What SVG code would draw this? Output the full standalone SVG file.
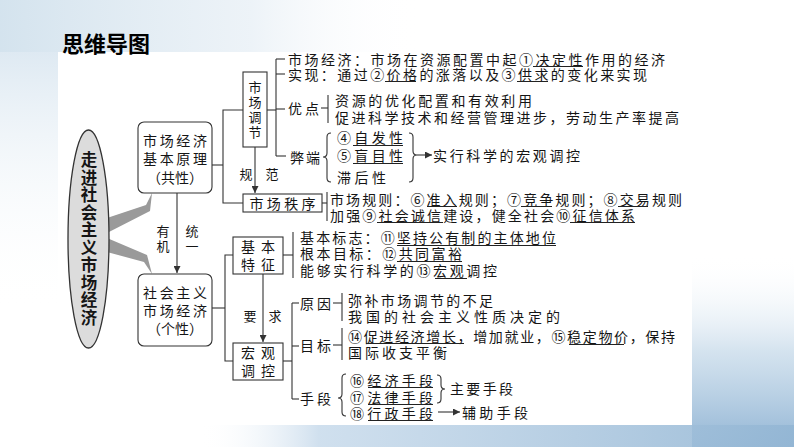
<svg xmlns="http://www.w3.org/2000/svg" width="794" height="447" viewBox="0 0 794 447">
<defs>
<style>
.t{font-family:"Noto Sans CJK SC","Noto Sans CJK JP",sans-serif;font-size:14px;fill:#151515;dominant-baseline:central}
.m{text-anchor:middle}
.s{font-size:13px}
.vt{font-family:"Noto Sans CJK SC","Noto Sans CJK JP",sans-serif;fill:#151515;writing-mode:vertical-rl;text-anchor:middle}
.ln{fill:none;stroke:#333;stroke-width:1.1}
.u{stroke:#222;stroke-width:1}
.box{fill:#fff;stroke:#333;stroke-width:1.1}
</style>
<marker id="ah" viewBox="0 0 10 10" refX="10" refY="5" markerWidth="7" markerHeight="7" orient="auto" markerUnits="userSpaceOnUse">
<path d="M0,0 L10,5 L0,10 Z" fill="#333"/>
</marker>
<linearGradient id="gTop" x1="0" y1="0" x2="1" y2="0">
<stop offset="0" stop-color="#cfe0ec" stop-opacity="0.9"/>
<stop offset="0.6" stop-color="#e1ebf3" stop-opacity="0.6"/>
<stop offset="1" stop-color="#ffffff" stop-opacity="0"/>
</linearGradient>
<linearGradient id="gLeft" x1="0" y1="0" x2="0" y2="1">
<stop offset="0" stop-color="#d6e4ef" stop-opacity="0.8"/>
<stop offset="1" stop-color="#ffffff" stop-opacity="0"/>
</linearGradient>
<linearGradient id="gRight" x1="0" y1="0" x2="0" y2="1">
<stop offset="0" stop-color="#ffffff" stop-opacity="0"/>
<stop offset="0.5" stop-color="#c2d7e8" stop-opacity="0.7"/>
<stop offset="1" stop-color="#86add0" stop-opacity="0.9"/>
</linearGradient>
<linearGradient id="gBot" x1="0" y1="0" x2="1" y2="0">
<stop offset="0" stop-color="#ffffff" stop-opacity="0"/>
<stop offset="0.2" stop-color="#c4d8ea" stop-opacity="0.8"/>
<stop offset="1" stop-color="#93b6d4" stop-opacity="0.9"/>
</linearGradient>
</defs>

<!-- background -->
<rect x="0" y="0" width="794" height="447" fill="#ffffff"/>
<rect x="0" y="0" width="420" height="52" fill="url(#gTop)"/>
<rect x="0" y="52" width="58" height="260" fill="url(#gLeft)"/>
<rect x="692" y="255" width="102" height="192" fill="url(#gRight)"/>
<rect x="200" y="425" width="594" height="22" fill="url(#gBot)"/>

<text x="62" y="52" style="font-family:'Noto Sans CJK SC',sans-serif;font-size:22px;font-weight:bold;fill:#000">思维导图</text>

<!-- connectors -->
<g id="connectors">
<polygon points="107,218 146,205 152,193 150,211 107,233" fill="#9a9a9a"/>
<polygon points="107,238 147,255 152,274 144,262 107,252" fill="#9a9a9a"/>
<line x1="177" y1="193" x2="177" y2="273" class="ln" marker-end="url(#ah)"/>
<polyline points="212,165 223,165" class="ln"/>
<polyline points="243,110 223,110 223,203 243,203" class="ln"/>
<line x1="255" y1="147" x2="255" y2="193" class="ln" marker-end="url(#ah)"/>
<line x1="267" y1="110" x2="276" y2="110" class="ln"/>
<line x1="276" y1="59" x2="276" y2="156" class="ln"/>
<line x1="276" y1="59" x2="285" y2="59" class="ln"/>
<line x1="276" y1="74" x2="285" y2="74" class="ln"/>
<line x1="276" y1="109" x2="285" y2="109" class="ln"/>
<line x1="276" y1="156" x2="286" y2="156" class="ln"/>
<line x1="321" y1="108" x2="328" y2="108" class="ln"/>
<line x1="328" y1="95" x2="328" y2="123" class="ln"/>
<path d="M331,133 Q327,133 327,137 L327,153 Q327,157 323,157 Q327,157 327,161 L327,178 Q327,182 331,182" class="ln"/>
<path d="M409,133 Q413,133 413,137 L413,151 Q413,155 417,155 Q413,155 413,159 L413,178 Q413,182 409,182" class="ln"/>
<line x1="417" y1="155" x2="432" y2="155" class="ln" marker-end="url(#ah)"/>
<line x1="322" y1="203" x2="327" y2="203" class="ln"/>
<line x1="327" y1="192" x2="327" y2="221" class="ln"/>
<line x1="212" y1="308" x2="225" y2="308" class="ln"/>
<polyline points="233,255 225,255 225,361 233,361" class="ln"/>
<line x1="263" y1="274" x2="263" y2="342" class="ln" marker-end="url(#ah)"/>
<line x1="283" y1="255" x2="293" y2="255" class="ln"/>
<line x1="293" y1="232" x2="293" y2="278" class="ln"/>
<line x1="283" y1="361" x2="292" y2="361" class="ln"/>
<line x1="292" y1="303" x2="292" y2="399" class="ln"/>
<line x1="292" y1="303" x2="299" y2="303" class="ln"/>
<line x1="292" y1="346" x2="299" y2="346" class="ln"/>
<line x1="292" y1="399" x2="299" y2="399" class="ln"/>
<line x1="333" y1="303" x2="342" y2="303" class="ln"/>
<line x1="342" y1="293" x2="342" y2="321" class="ln"/>
<line x1="333" y1="345" x2="342" y2="345" class="ln"/>
<line x1="342" y1="328" x2="342" y2="360" class="ln"/>
<path d="M346,374 Q342,374 342,378 L342,394 Q342,398 338,398 Q342,398 342,402 L342,412 Q342,416 346,416" class="ln"/>
<path d="M437,375 Q441,375 441,379 L441,385 Q441,389 445,389 Q441,389 441,393 L441,399 Q441,403 437,403" class="ln"/>
<line x1="438" y1="412" x2="460" y2="412" class="ln" marker-end="url(#ah)"/>
</g>

<!-- nodes -->
<g id="root">
<ellipse cx="88.5" cy="239" rx="20.5" ry="109" fill="#dcdcdc" stroke="#333" stroke-width="1.3"/>
<text x="89" y="239" class="vt" style="font-size:16.5px;font-weight:bold;letter-spacing:1px">走进社会主义市场经济</text>
</g>

<g id="n-common">
<rect x="138" y="122" width="74" height="71" rx="6" class="box"/>
<text x="175" y="140" class="t m" textLength="64" lengthAdjust="spacing">市场经济</text>
<text x="175" y="158" class="t m" textLength="64" lengthAdjust="spacing">基本原理</text>
<text x="175" y="177" class="t m" textLength="56" lengthAdjust="spacing">（共性）</text>
</g>

<g id="n-unity-label">
<text x="163" y="239.5" class="vt" style="font-size:13px;letter-spacing:2px">有机</text>
<text x="192" y="239.5" class="vt" style="font-size:13px;letter-spacing:2px">统一</text>
</g>

<g id="n-special">
<rect x="138" y="274" width="74" height="72" rx="6" class="box"/>
<text x="175" y="292" class="t m" textLength="64" lengthAdjust="spacing">社会主义</text>
<text x="175" y="310" class="t m" textLength="64" lengthAdjust="spacing">市场经济</text>
<text x="175" y="328" class="t m" textLength="56" lengthAdjust="spacing">（个性）</text>
</g>

<g id="n-regulate">
<rect x="243" y="72" width="24" height="75" class="box"/>
<text x="255" y="110.5" class="vt" style="font-size:13px;letter-spacing:2px">市场调节</text>
</g>

<g id="n-norm-label">
<text x="246" y="173" class="t m s">规</text>
<text x="272" y="173" class="t m s">范</text>
</g>

<g id="n-order">
<rect x="243" y="194" width="79" height="18" class="box"/>
<text x="282.5" y="203" class="t m" textLength="66" lengthAdjust="spacing">市场秩序</text>
</g>

<g id="n-regulate-items">
<text x="288" y="59" class="t" textLength="377" lengthAdjust="spacing">市场经济：市场在资源配置中起①决定性作用的经济</text>
<line x1="533" y1="66.5" x2="583" y2="66.5" class="u"/>
<text x="288" y="74" class="t" textLength="359" lengthAdjust="spacing">实现：通过②价格的涨落以及③供求的变化来实现</text>
<line x1="385" y1="81.5" x2="416" y2="81.5" class="u"/>
<line x1="517" y1="81.5" x2="548" y2="81.5" class="u"/>
<text x="288" y="108" class="t" textLength="31" lengthAdjust="spacing">优点</text>
<text x="335" y="100" class="t" textLength="197" lengthAdjust="spacing">资源的优化配置和有效利用</text>
<text x="335" y="117" class="t" textLength="344" lengthAdjust="spacing">促进科学技术和经营管理进步，劳动生产率提高</text>
<text x="290" y="157" class="t" textLength="30" lengthAdjust="spacing">弊端</text>
<text x="337" y="137" class="t" textLength="66" lengthAdjust="spacing">④自发性</text>
<line x1="353" y1="145.5" x2="403" y2="145.5" class="u"/>
<text x="337" y="155" class="t" textLength="66" lengthAdjust="spacing">⑤盲目性</text>
<line x1="353" y1="163.5" x2="403" y2="163.5" class="u"/>
<text x="337" y="177" class="t" textLength="49" lengthAdjust="spacing">滞后性</text>
<text x="433" y="155" class="t" textLength="147" lengthAdjust="spacing">实行科学的宏观调控</text>
</g>

<g id="n-order-items">
<text x="330" y="199" class="t" textLength="352" lengthAdjust="spacing">市场规则：⑥准入规则；⑦竞争规则；⑧交易规则</text>
<line x1="427" y1="206.5" x2="457" y2="206.5" class="u"/>
<line x1="521" y1="206.5" x2="552" y2="206.5" class="u"/>
<line x1="618" y1="206.5" x2="648" y2="206.5" class="u"/>
<text x="330" y="215" class="t" textLength="305" lengthAdjust="spacing">加强⑨社会诚信建设，健全社会⑩征信体系</text>
<line x1="377" y1="222.5" x2="443" y2="222.5" class="u"/>
<line x1="570" y1="222.5" x2="635" y2="222.5" class="u"/>
</g>

<g id="n-feature">
<rect x="233" y="237" width="50" height="37" class="box"/>
<text x="258" y="246" class="t m" textLength="34" lengthAdjust="spacing">基本</text>
<text x="258" y="264" class="t m" textLength="34" lengthAdjust="spacing">特征</text>
</g>

<g id="n-require-label">
<text x="250" y="315" class="t m s">要</text>
<text x="275" y="315" class="t m s">求</text>
</g>

<g id="n-macro">
<rect x="233" y="343" width="50" height="37" class="box"/>
<text x="258" y="352" class="t m" textLength="34" lengthAdjust="spacing">宏观</text>
<text x="258" y="370" class="t m" textLength="34" lengthAdjust="spacing">调控</text>
</g>

<g id="n-feature-items">
<text x="300" y="237" class="t" textLength="256" lengthAdjust="spacing">基本标志：⑪坚持公有制的主体地位</text>
<line x1="397" y1="245.5" x2="556" y2="245.5" class="u"/>
<text x="300" y="253" class="t" textLength="162" lengthAdjust="spacing">根本目标：⑫共同富裕</text>
<line x1="397" y1="261.5" x2="462" y2="261.5" class="u"/>
<text x="300" y="270" class="t" textLength="197" lengthAdjust="spacing">能够实行科学的⑬宏观调控</text>
<line x1="435" y1="278.5" x2="467" y2="278.5" class="u"/>
</g>

<g id="n-macro-items">
<text x="300" y="303" class="t" textLength="31" lengthAdjust="spacing">原因</text>
<text x="348" y="300" class="t" textLength="145" lengthAdjust="spacing">弥补市场调节的不足</text>
<text x="348" y="316" class="t" textLength="212" lengthAdjust="spacing">我国的社会主义性质决定的</text>
<text x="300" y="345" class="t" textLength="31" lengthAdjust="spacing">目标</text>
<text x="348" y="336" class="t" textLength="327" lengthAdjust="spacing">⑭促进经济增长，增加就业，⑮稳定物价，保持</text>
<line x1="366" y1="343.5" x2="464" y2="343.5" class="u"/>
<line x1="569" y1="344.5" x2="624" y2="344.5" class="u"/>
<text x="348" y="352" class="t" textLength="99" lengthAdjust="spacing">国际收支平衡</text>
<text x="300" y="398" class="t" textLength="31" lengthAdjust="spacing">手段</text>
<text x="350" y="380" class="t" textLength="83" lengthAdjust="spacing">⑯经济手段</text>
<line x1="368" y1="387.5" x2="433" y2="387.5" class="u"/>
<text x="350" y="397" class="t" textLength="83" lengthAdjust="spacing">⑰法律手段</text>
<line x1="368" y1="404.5" x2="433" y2="404.5" class="u"/>
<text x="350" y="413" class="t" textLength="83" lengthAdjust="spacing">⑱行政手段</text>
<line x1="368" y1="420.5" x2="433" y2="420.5" class="u"/>
<text x="450" y="388" class="t" textLength="63" lengthAdjust="spacing">主要手段</text>
<text x="462" y="412" class="t" textLength="66" lengthAdjust="spacing">辅助手段</text>
</g>
</svg>
